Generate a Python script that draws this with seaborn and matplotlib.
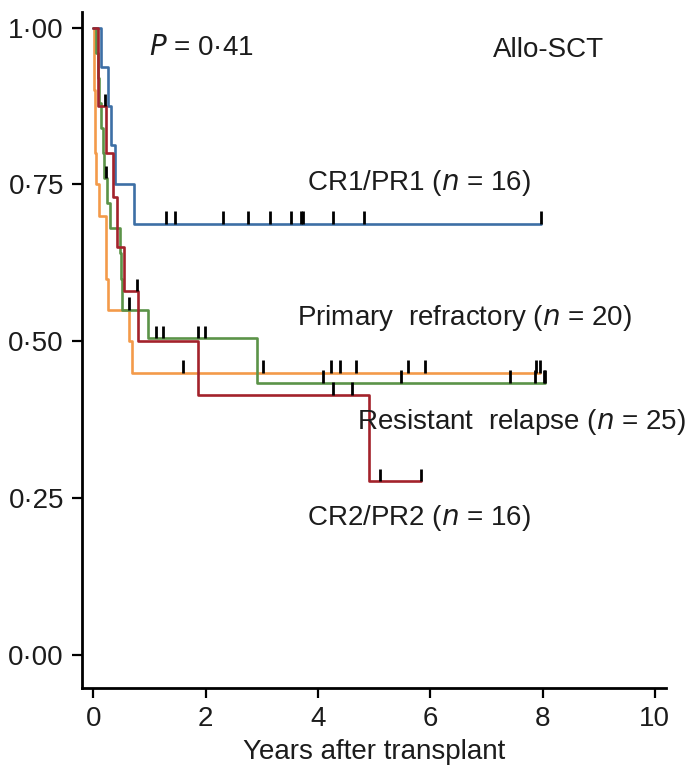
import numpy as np
import pandas as pd
import matplotlib
matplotlib.use('Agg')
import matplotlib.pyplot as plt
import seaborn as sns

# Kaplan-Meier step curves (years, survival)
cr1_times = [0, 0.13, 0.27, 0.31, 0.39, 0.73, 7.98]
cr1_surv = [1.0, 0.9375, 0.875, 0.8125, 0.75, 0.6875, 0.6875]
cr1_censor = [1.30, 1.46, 2.31, 2.76, 3.15, 3.53, 3.70, 3.74, 4.27, 4.83, 7.98]

prim_times = [0, 0.01, 0.02, 0.03, 0.04, 0.05, 0.11, 0.22, 0.23, 0.27, 0.63, 0.69, 7.95]
prim_surv = [1.0, 0.95, 0.90, 0.85, 0.80, 0.75, 0.70, 0.65, 0.60, 0.55, 0.50, 0.45, 0.45]
prim_censor = [1.59, 3.03, 4.23, 4.39, 4.68, 5.61, 5.91, 7.89, 7.95]

res_times = [0, 0.05, 0.08, 0.11, 0.14, 0.17, 0.20, 0.25, 0.29, 0.47, 0.50, 0.52, 0.98, 2.91, 8.05]
res_surv = [1.0, 0.96, 0.92, 0.88, 0.84, 0.80, 0.76, 0.72, 0.68, 0.64, 0.60, 0.55, 0.505, 0.434, 0.434]
res_censor = [0.22, 0.63, 1.12, 1.25, 1.86, 1.99, 4.10, 5.48, 7.42, 7.87, 8.02, 8.05]

cr2_times = [0, 0.09, 0.23, 0.36, 0.42, 0.54, 0.79, 1.87, 4.91, 5.83]
cr2_surv = [1.0, 0.875, 0.80, 0.73, 0.65, 0.58, 0.50, 0.415, 0.277, 0.277]
cr2_censor = [0.21, 0.78, 4.27, 4.60, 5.10, 5.83]

groups = {
    'Primary refractory': (prim_times, prim_surv, prim_censor, '#f39a4a'),
    'Resistant relapse': (res_times, res_surv, res_censor, '#5b9348'),
    'CR1/PR1': (cr1_times, cr1_surv, cr1_censor, '#3d6fa5'),
    'CR2/PR2': (cr2_times, cr2_surv, cr2_censor, '#a3222b'),
}

sns.set_theme(style='ticks')
fams = ['Liberation Sans Narrow', 'Liberation Sans', 'DejaVu Sans']
plt.rcParams['font.family'] = fams
plt.rcParams['mathtext.fontset'] = 'custom'
plt.rcParams['mathtext.rm'] = 'Liberation Sans Narrow'
plt.rcParams['mathtext.it'] = 'Liberation Sans Narrow:italic'
txt_col = '#1c1c1c'

rows = []
for name, (t, s, c, col) in groups.items():
    for ti, si in zip(t, s):
        rows.append({'group': name, 'time': ti, 'surv': si})
df = pd.DataFrame(rows)

fig = plt.figure(figsize=(6.92, 7.77), dpi=100)
ax = fig.add_axes([0.1185, 0.1145, 0.844, 0.870])

sns.lineplot(data=df, x='time', y='surv', hue='group', hue_order=list(groups.keys()),
             palette={k: v[3] for k, v in groups.items()}, drawstyle='steps-post',
             estimator=None, sort=True, linewidth=1.9, legend=False, ax=ax)

# censor marks, drawn upward from the curve
tick_h = 0.02
for name, (t, s, c, col) in groups.items():
    idx = np.searchsorted(t, c, side='right') - 1
    cy = np.array(s)[idx]
    ax.vlines(c, cy, cy + tick_h, color='black', linewidth=2.0, zorder=5)

fs = 20
ax.text(1.0, 0.968, '$P$ = 0·41', fontsize=fs, ha='left', va='center', color=txt_col)
ax.text(7.12, 0.965, 'Allo-SCT', fontsize=fs, ha='left', va='center', color=txt_col)
ax.text(3.81, 0.753, 'CR1/PR1 ($n$ = 16)', fontsize=fs, ha='left', va='center', color=txt_col)
ax.text(3.63, 0.537, 'Primary  refractory ($n$ = 20)', fontsize=fs, ha='left', va='center', color=txt_col)
ax.text(4.70, 0.372, 'Resistant  relapse ($n$ = 25)', fontsize=fs, ha='left', va='center', color=txt_col)
ax.text(3.81, 0.218, 'CR2/PR2 ($n$ = 16)', fontsize=fs, ha='left', va='center', color=txt_col)

ax.set_xlim(-0.2, 10.2)
ax.set_ylim(-0.053, 1.025)
ax.set_xticks([0, 2, 4, 6, 8, 10])
yt = [0, 0.25, 0.5, 0.75, 1.0]
ax.set_yticks(yt)
ax.set_yticklabels([f'{v:.2f}'.replace('.', '·') for v in yt])
ax.set_xlabel('Years after transplant', fontsize=fs, labelpad=5, color=txt_col)
ax.set_ylabel('')
ax.tick_params(axis='both', labelsize=fs, width=1.6, length=7, color='black', labelcolor=txt_col)
ax.tick_params(axis='x', pad=6)
ax.tick_params(axis='y', pad=6)
for sp in ['left', 'bottom']:
    ax.spines[sp].set_linewidth(2.0)
    ax.spines[sp].set_color('black')
sns.despine(ax=ax)

fig.savefig('out.png', dpi=100)
